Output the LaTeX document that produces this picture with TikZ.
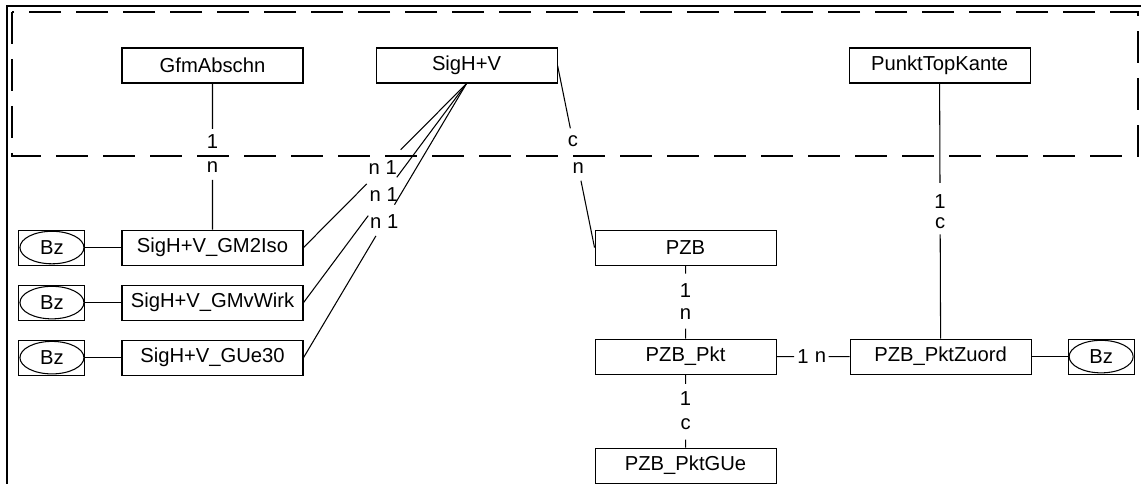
\documentclass[tikz,border=0pt]{standalone}
\usepackage{fontspec}
\setmainfont{Liberation Sans}
\usepackage{tikz}
\usetikzlibrary{
    positioning,
    calc
}
\tikzset{
    entity/.style={
        draw,
        line width=0.6pt,
        minimum width=36.2mm,
        minimum height=7mm,
        inner sep=0pt,
        align=center
    }
}
\tikzset{
    bzbox/.style={
        draw,
        line width=0.6pt,
        minimum width=13.2mm,
        minimum height=7mm,
        inner sep=0pt,
        path picture={
            \draw[line width=0.6pt] (path picture bounding box.center)
                ellipse (6.4mm and 3.25mm);
        }
    }
}
\tikzset{
    relation/.style={
        draw=black,
        line width=0.6pt
    }
}
\tikzset{
    cardinality/.style={
        inner sep=0pt
    }
}
\tikzset{
    viewarea/.style={
        draw=black,
        dash pattern=on 6.4mm off 3mm,
        line width=0.8pt
    }
}
\tikzset{
    outerframe/.style={
        draw=black,
        line width=1.3pt
    }
}

\begin{document}
\begin{tikzpicture}[
    font=\fontsize{11.5}{13.8}\selectfont
]

\useasboundingbox (0,0) rectangle (228.2mm,-96.8mm);

\draw[outerframe] (1.4mm,-96.8mm) -- (1.4mm,-1.2mm) -- (228.2mm,-1.2mm);
\draw[viewarea] (2.4mm,-2.4mm) rectangle (227.6mm,-31.2mm);

\node[entity] (gfm) at (42.5mm,-13.1mm) {GfmAbschn};
\node[entity, right=14.4mm of gfm] (sighv) {SigH+V};
\node[entity, right=58.2mm of sighv] (punkt) {PunktTopKante};

\node[entity, below=29.2mm of gfm] (gm2iso) {SigH+V\_GM2Iso};
\node[entity, below=3.8mm of gm2iso] (gmvwirk) {SigH+V\_GMvWirk};
\node[entity, below=3.8mm of gmvwirk] (gue30) {SigH+V\_GUe30};

\node[bzbox, left=7.2mm of gm2iso] (bza) {Bz};
\node[bzbox, left=7.2mm of gmvwirk] (bzb) {Bz};
\node[bzbox, left=7.2mm of gue30] (bzc) {Bz};

\node[entity, right=58.2mm of gm2iso] (pzb) {PZB};
\node[entity, below=14.6mm of pzb] (pzbpkt) {PZB\_Pkt};
\node[entity, below=14.6mm of pzbpkt] (pzbpktgue) {PZB\_PktGUe};
\node[entity, right=14.6mm of pzbpkt] (pktzuord) {PZB\_PktZuord};
\node[bzbox, right=7.2mm of pktzuord] (bzd) {Bz};

% Bz links
\draw[relation] (bza) -- (gm2iso);
\draw[relation] (bzb) -- (gmvwirk);
\draw[relation] (bzc) -- (gue30);
\draw[relation] (pktzuord) -- (bzd);

% GfmAbschn 1:n
\draw[relation] (gfm.south) -- ($(gfm.south)!0.31!(gm2iso.north)$)
    ($(gfm.south)!0.66!(gm2iso.north)$) -- (gm2iso.north);
\node[cardinality] (gfmone) at ($(gfm.south)!0.40!(gm2iso.north)$) {1};
\node[cardinality] (gfmn) at ($(gfm.south)!0.575!(gm2iso.north)$) {n};

% SigH+V 1:n
\draw[relation] (sighv.south) -- ($(sighv.south)!0.404!(gm2iso.east)$)
    ($(sighv.south)!0.612!(gm2iso.east)$) -- (gm2iso.east);
\node[cardinality] (isocard) at ($(sighv.south)!0.514!(gm2iso.east)$) {n 1};

\draw[relation] (sighv.south) -- ($(sighv.south)!0.428!(gmvwirk.east)$)
    ($(sighv.south)!0.603!(gmvwirk.east)$) -- (gmvwirk.east);
\node[cardinality] (wirkcard) at ($(sighv.south)!0.508!(gmvwirk.east)$) {n 1};

\draw[relation] (sighv.south) -- ($(sighv.south)!0.442!(gue30.east)$)
    ($(sighv.south)!0.556!(gue30.east)$) -- (gue30.east);
\node[cardinality] (guecard) at ($(sighv.south)!0.505!(gue30.east)$) {n 1};

% SigH+V c:n PZB
\draw[relation] (sighv.east) -- ($(sighv.east)!0.345!(pzb.west)$)
    ($(sighv.east)!0.633!(pzb.west)$) -- (pzb.west);
\node[cardinality] (pzbc) at ($(sighv.east)!0.417!(pzb.west)$) {c};
\node[cardinality] (pzbn) at ($(sighv.east)!0.561!(pzb.west)$) {n};

% PunktTopKante 1:c
\draw[relation] (punkt.south) -- ($(punkt.south)!0.39!(pktzuord.north)$)
    ($(punkt.south)!0.591!(pktzuord.north)$) -- (pktzuord.north);
\node[cardinality] (punktone) at ($(punkt.south)!0.461!(pktzuord.north)$) {1};
\node[cardinality] (punktc) at ($(punkt.south)!0.547!(pktzuord.north)$) {c};

% PZB 1:n
\draw[relation] (pzb.south) -- ($(pzb.south)!0.11!(pzbpkt.north)$)
    ($(pzb.south)!0.863!(pzbpkt.north)$) -- (pzbpkt.north);
\node[cardinality] (pzbone) at ($(pzb.south)!0.342!(pzbpkt.north)$) {1};
\node[cardinality] (pktn) at ($(pzb.south)!0.671!(pzbpkt.north)$) {n};

% PZB_Pkt 1:c
\draw[relation] (pzbpkt.south) -- ($(pzbpkt.south)!0.125!(pzbpktgue.north)$)
    ($(pzbpkt.south)!0.889!(pzbpktgue.north)$) -- (pzbpktgue.north);
\node[cardinality] (pktone) at ($(pzbpkt.south)!0.333!(pzbpktgue.north)$) {1};
\node[cardinality] (guec) at ($(pzbpkt.south)!0.681!(pzbpktgue.north)$) {c};

% PZB_Pkt 1:n
\draw[relation] (pzbpkt.east) -- ($(pzbpkt.east)!0.241!(pktzuord.west)$)
    ($(pzbpkt.east)!0.712!(pktzuord.west)$) -- (pktzuord.west);
\node[cardinality] (zuordone) at ($(pzbpkt.east)!0.363!(pktzuord.west)$) {1};
\node[cardinality] (zuordn) at ($(pzbpkt.east)!0.603!(pktzuord.west)$) {n};

\end{tikzpicture}
\end{document}
